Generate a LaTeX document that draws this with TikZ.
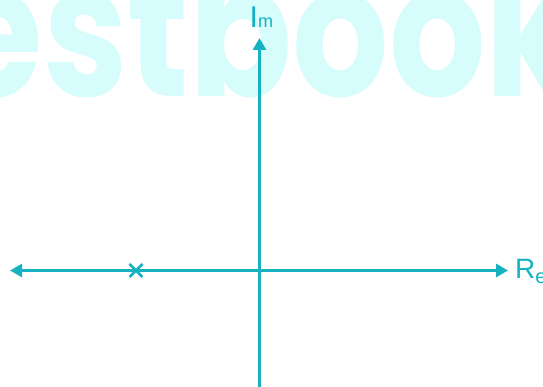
\documentclass[tikz,border=0pt]{standalone}
\usepackage{fontspec}
\setmainfont{Liberation Sans}
\newfontfamily\wmfont{Poppins}
\usetikzlibrary{arrows.meta}
\definecolor{axis}{RGB}{22,178,194}
\definecolor{wm}{RGB}{214,252,252}
\tikzset{
  axisline/.style={draw=axis, line width=3pt, line cap=butt},
  axisarrow/.style={-{Triangle[length=12pt,width=13pt]}},
  lbl/.style={text=axis, inner sep=0pt, anchor=base west},
  cross/.style={draw=axis, line width=2.8pt}
}
\begin{document}
\begin{tikzpicture}[x=1pt,y=1pt]
\useasboundingbox (0,0) rectangle (543,387);
\begin{scope}
\clip (0,0) rectangle (543,387);
\node[inner sep=0pt, anchor=base west, text=wm, xscale=0.82, font=\wmfont\bfseries\fontsize{185}{185}\selectfont] (wm) at (-112,290) {testbook.com};
\end{scope}
\coordinate (vb) at (259.5,0);
\coordinate (vt) at (259.5,349);
\coordinate (hl) at (10,116.5);
\coordinate (hr) at (508,116.5);
\coordinate (hc) at (259.5,116.5);
\draw[axisline, axisarrow] (vb) -- (vt);
\draw[axisline, axisarrow] (hc) -- (hr);
\draw[axisline, axisarrow] (hc) -- (hl);
\coordinate (pole) at (136,116.5);
\draw[cross] ([shift={(-6.5,-6.5)}]pole) -- ([shift={(6.5,6.5)}]pole);
\draw[cross] ([shift={(-6.5,6.5)}]pole) -- ([shift={(6.5,-6.5)}]pole);
\node[lbl] (im) at (249.5,359) {\fontsize{30}{30}\selectfont I\fontsize{18}{18}\selectfont m};
\node[lbl] (re) at (515,108) {\fontsize{28}{28}\selectfont R\raisebox{-5pt}{\fontsize{20}{20}\selectfont e}};
\end{tikzpicture}
\end{document}
